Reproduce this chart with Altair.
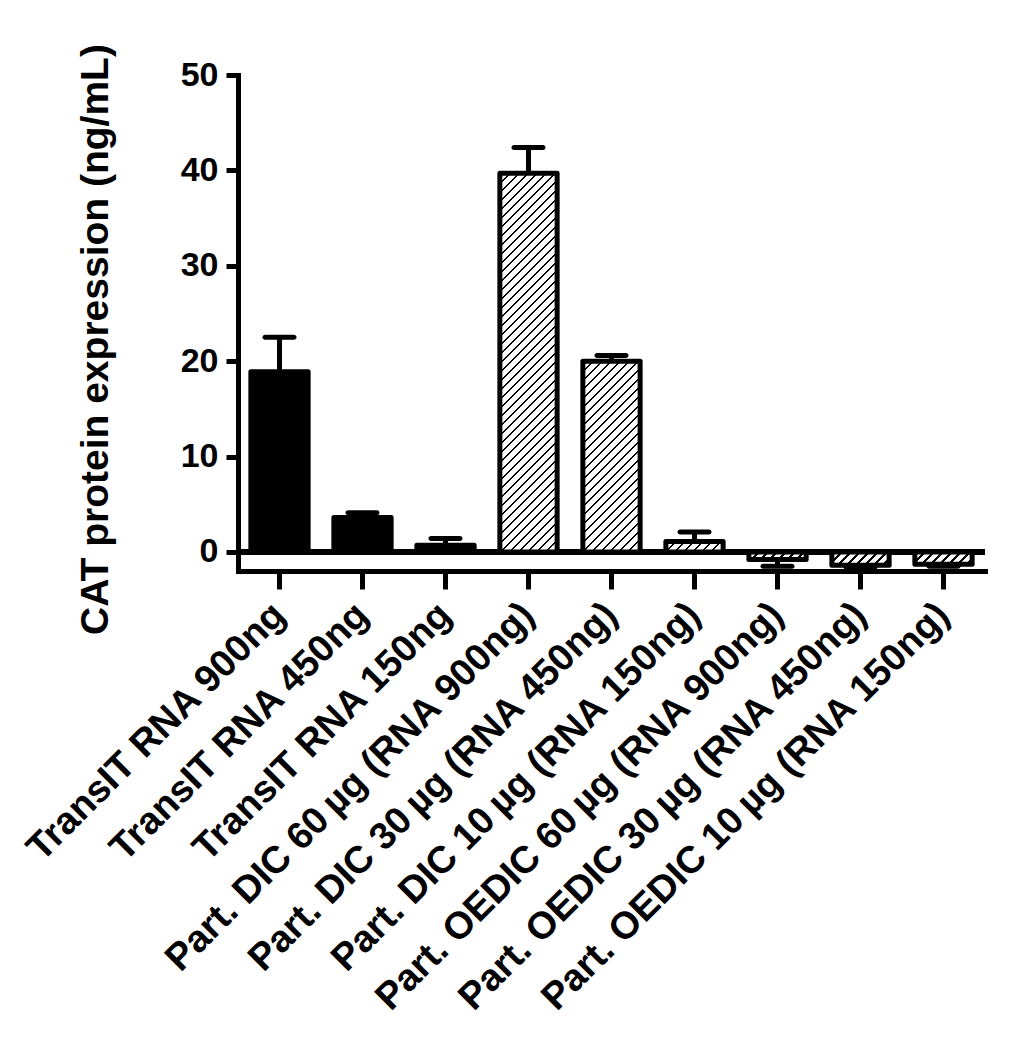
import altair as alt
import pandas as pd

# ---------------- data ----------------
categories = [
    "TransIT RNA 900ng",
    "TransIT RNA 450ng",
    "TransIT RNA 150ng",
    "Part. DIC 60\u2009µg (RNA 900ng)",
    "Part. DIC 30\u2009µg (RNA 450ng)",
    "Part. DIC 10\u2009µg (RNA 150ng)",
    "Part. OEDIC 60\u2009µg (RNA 900ng)",
    "Part. OEDIC 30\u2009µg (RNA 450ng)",
    "Part. OEDIC 10\u2009µg (RNA 150ng)",
]
means = [18.9, 3.6, 0.7, 39.7, 20.0, 1.1, -0.8, -1.4, -1.3]
err_ends = [22.5, 4.1, 1.4, 42.4, 20.6, 2.1, -1.5, -1.6, -1.5]
fill_kind = ["solid", "solid", "solid",
             "hatched", "hatched", "hatched",
             "hatched", "hatched", "hatched"]
y_ticks = [0, 10, 20, 30, 40, 50]

# ---------------- layout / style ----------------
W, H = 747, 496
YMIN, YMAX = -2, 50
PAD_INNER = 0.31
FONT = "Liberation Sans"
LW = 5

df = pd.DataFrame({"cat": categories, "mean": means, "err": err_ends, "kind": fill_kind})

xscale = alt.Scale(paddingInner=PAD_INNER, paddingOuter=PAD_INNER / 2)
yscale = alt.Scale(domain=[YMIN, YMAX], nice=False, zero=False)

xaxis = alt.Axis(
    title=None, labelAngle=-45, labelAlign="right", labelBaseline="middle",
    labelFontSize=38, labelFont=FONT, labelFontWeight="bold", labelColor="black",
    labelLimit=1000, labelOverlap=False, labelPadding=20,
    tickSize=18, tickWidth=LW, tickColor="black",
    domainWidth=LW, domainColor="black", domainCap="square", grid=False,
)
yaxis = alt.Axis(
    title="CAT protein expression (ng/mL)", values=y_ticks,
    labelFontSize=34, labelFont=FONT, labelFontWeight="bold", labelColor="black",
    labelPadding=8, tickSize=12, tickWidth=LW, tickColor="black",
    domainWidth=LW, domainColor="black", domainCap="square", grid=False,
    titleFont=FONT, titleFontSize=39, titleFontWeight="bold", titleColor="black",
    titleAngle=270, titleAlign="center", titleBaseline="middle",
    titleX=-143, titleY=264,
)

X = alt.X("cat:N", sort=categories, scale=xscale, axis=xaxis)


def Y(field):
    return alt.Y(field, scale=yscale, axis=yaxis)


def hatch_gradient(value, period=9.0, ink=0.3):
    """Diagonal '/' stripes built as a hard-stop linear gradient for one bar."""
    step = W / len(categories)
    w = step * (1 - PAD_INNER)
    h = max(abs(value) * H / (YMAX - YMIN), 1.0)
    total = w + h
    s = total / (w * w + h * h)
    stops = []
    k = 0
    while k * period < total:
        a = min(k * period / total, 1.0)
        b = min((k * period + ink * period) / total, 1.0)
        stops += [
            {"offset": a, "color": "white"},
            {"offset": a, "color": "black"},
            {"offset": b, "color": "black"},
            {"offset": b, "color": "white"},
        ]
        k += 1
    stops.append({"offset": 1.0, "color": "white"})
    return alt.LinearGradient(gradient="linear", stops=stops,
                              x1=0, y1=0, x2=w * s, y2=h * s)


base = alt.Chart(df)

zero_line = base.mark_rule(color="black", strokeWidth=LW).encode(
    y=alt.Y(datum=0, scale=yscale, axis=yaxis)
)

solid_bars = base.transform_filter(alt.datum.kind == "solid").mark_bar(
    fill="black", stroke="black", strokeWidth=LW, strokeJoin="round"
).encode(x=X, y=Y("mean:Q"))

hatched_layers = []
for c, v, k in zip(categories, means, fill_kind):
    if k != "hatched":
        continue
    hatched_layers.append(
        base.transform_filter(alt.FieldEqualPredicate(field="cat", equal=c)).mark_bar(
            fill=hatch_gradient(v), stroke="black", strokeWidth=LW, strokeJoin="round"
        ).encode(x=X, y=Y("mean:Q"))
    )

stems = base.mark_rule(color="black", strokeWidth=LW).encode(
    x=X, y=Y("mean:Q"), y2="err:Q"
)
caps = base.mark_tick(color="black", size=34, thickness=LW, cornerRadius=2.5,
                      opacity=1).encode(x=X, y=Y("err:Q"))

chart = alt.layer(zero_line, solid_bars, *hatched_layers, stems, caps).properties(
    width=W, height=H,
    autosize=alt.AutoSizeParams(type="none"),
    padding={"left": 230, "top": 67, "right": 23, "bottom": 460},
    background="white",
).configure_view(stroke=None)

chart.save("out.html", embed_options={"renderer": "svg", "actions": False})
